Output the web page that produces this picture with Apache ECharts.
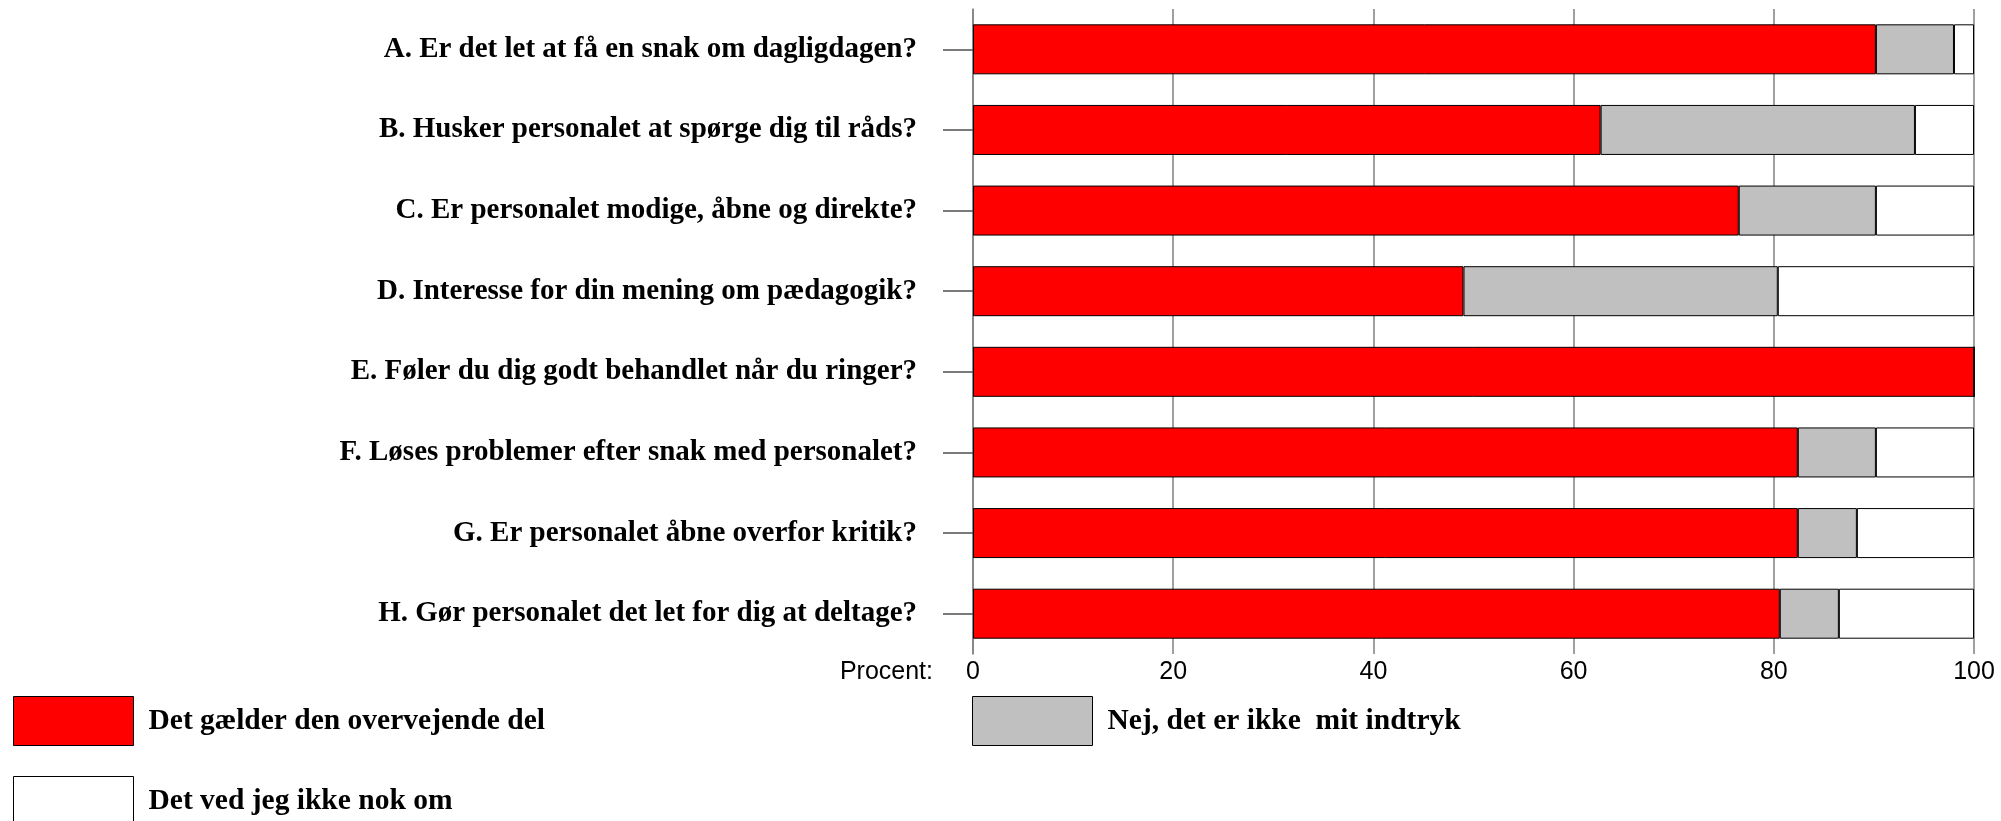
<!DOCTYPE html>
<html>
<head>
<meta charset="utf-8">
<script src="https://cdn.jsdelivr.net/npm/echarts@6/dist/echarts.min.js"></script>
<style>
  html, body { margin: 0; padding: 0; background: #fff; }
  #main { width: 2001px; height: 821px; }
</style>
</head>
<body>
<div id="main"></div>
<script>
// spørgsmål (fra toppen og ned)
var questions = [
  'A. Er det let at få en snak om dagligdagen?',
  'B. Husker personalet at spørge dig til råds?',
  'C. Er personalet modige, åbne og direkte?',
  'D. Interesse for din mening om pædagogik?',
  'E. Føler du dig godt behandlet når du ringer?',
  'F. Løses problemer efter snak med personalet?',
  'G. Er personalet åbne overfor kritik?',
  'H. Gør personalet det let for dig at deltage?'
];
// svarkategorier
var answerNames = [
  'Det gælder den overvejende del',
  'Nej, det er ikke  mit indtryk',
  'Det ved jeg ikke nok om'
];
// procenter pr. spørgsmål
var valuesYes     = [90.2, 62.7, 76.5, 49.0, 100, 82.4, 82.4, 80.6];
var valuesNo      = [7.8, 31.4, 13.7, 31.4, 0, 7.8, 5.9, 5.9];
var valuesUnknown = [2.0, 5.9, 9.8, 19.6, 0, 9.8, 11.7, 13.5];
var xTicks = [0, 20, 40, 60, 80, 100];

var colors = ['#ff0000', '#c0c0c0', '#ffffff'];
var seriesData = [valuesYes, valuesNo, valuesUnknown];

var chart = echarts.init(document.getElementById('main'));

var seriesList = [];
answerNames.forEach(function (name, i) {
  seriesList.push({
    name: name,
    type: 'bar',
    stack: 'total',
    barWidth: 50,
    data: seriesData[i],
    itemStyle: {
      color: colors[i],
      borderColor: '#000',
      borderWidth: 1
    }
  });
});

var legendText = {
  fontFamily: 'Liberation Serif',
  fontWeight: 'bold',
  fontSize: 29.5,
  color: '#000',
  padding: [8, 0, 0, 10]
};
function makeLegend(name, left, top) {
  return {
    data: [name],
    left: left,
    top: top,
    padding: 0,
    icon: 'rect',
    itemWidth: 120,
    itemHeight: 49,
    selectedMode: false,
    itemStyle: { borderColor: '#000', borderWidth: 1 },
    textStyle: legendText
  };
}

var option = {
  animation: false,
  backgroundColor: '#fff',
  grid: { left: 973, right: 27, top: 9, bottom: 167, containLabel: false },
  legend: [
    makeLegend(answerNames[0], 13, 696),
    makeLegend(answerNames[1], 972, 696),
    makeLegend(answerNames[2], 13, 776)
  ],
  xAxis: {
    type: 'value',
    min: 0,
    max: 100,
    interval: 20,
    name: 'Procent:',
    nameLocation: 'start',
    nameGap: 40,
    nameTextStyle: {
      fontFamily: 'Liberation Sans',
      fontSize: 25,
      color: '#000',
      verticalAlign: 'top',
      padding: [6, 0, 0, 0]
    },
    axisLine: { show: false },
    axisTick: { show: false },
    axisLabel: {
      margin: 6,
      fontFamily: 'Liberation Sans',
      fontSize: 25,
      color: '#000',
      formatter: function (v) { return xTicks.indexOf(v) >= 0 ? String(v) : ''; }
    },
    splitLine: { show: true, lineStyle: { color: '#808080', width: 1.5 } }
  },
  yAxis: {
    type: 'category',
    inverse: true,
    data: questions,
    axisLine: { show: true, lineStyle: { color: '#808080', width: 1.5 } },
    axisTick: { show: true, length: 30, alignWithLabel: true, lineStyle: { color: '#505050', width: 1.5 } },
    axisLabel: {
      margin: 56,
      fontFamily: 'Liberation Serif',
      fontWeight: 'bold',
      fontSize: 29,
      color: '#000'
    },
    splitLine: { show: false }
  },
  series: seriesList
};

chart.setOption(option);
</script>
</body>
</html>
